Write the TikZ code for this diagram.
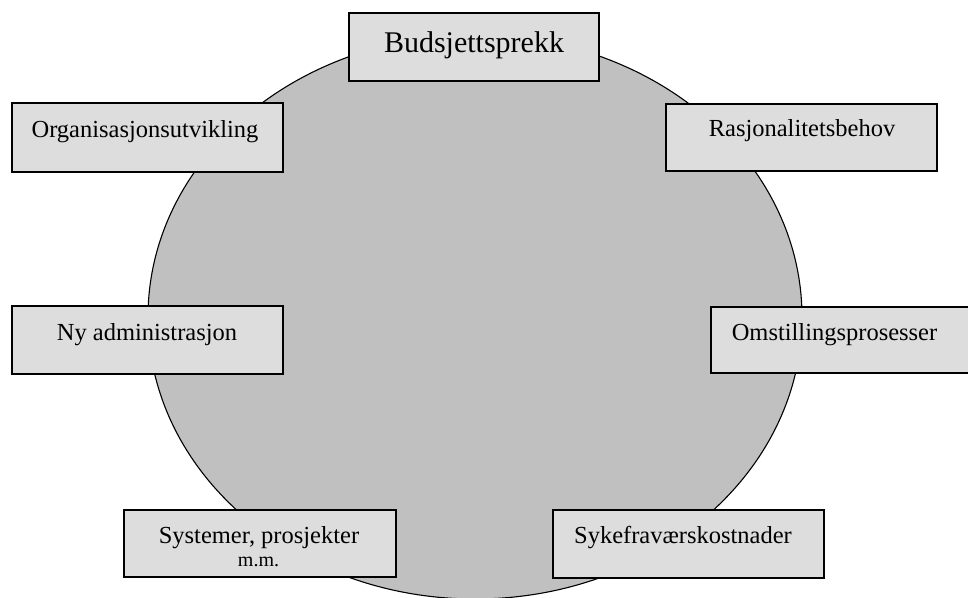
\documentclass[tikz,border=0pt]{standalone}
\usepackage{fontspec}
\setmainfont{Liberation Serif}
\definecolor{discgray}{HTML}{C0C0C0}
\definecolor{boxgray}{HTML}{DDDDDD}
\begin{document}
\begin{tikzpicture}[x=1pt,y=-1pt,
  boxstyle/.style={draw=black,line width=1.6pt,fill=boxgray},
  lbl/.style={anchor=base,inner sep=0pt,font=\fontsize{24.5}{28}\selectfont},
  biglbl/.style={anchor=base,inner sep=0pt,font=\fontsize{30}{34}\selectfont},
  smalllbl/.style={anchor=base,inner sep=0pt,font=\fontsize{20}{24}\selectfont}]
\useasboundingbox (0,0) rectangle (968,597);
% central disc
\draw[fill=discgray,line width=1.1pt] (475,317) ellipse [x radius=327, y radius=282];
% boxes
\draw[boxstyle] (349,13) rectangle (599,81);
\node[biglbl] (budsjett) at (474,52) {Budsjettsprekk};
\draw[boxstyle] (12,103) rectangle (283,172);
\node[lbl] (org) at (145,137) {Organisasjonsutvikling};
\draw[boxstyle] (666,104) rectangle (937,171);
\node[lbl] (rasj) at (802,136) {Rasjonalitetsbehov};
\draw[boxstyle] (12,306) rectangle (283,374);
\node[lbl] (nyadm) at (147,340) {Ny administrasjon};
\draw[boxstyle] (711,307) rectangle (972,373);
\node[lbl] (omst) at (834.5,340) {Omstillingsprosesser};
\draw[boxstyle] (124,510) rectangle (396,577);
\node[lbl] (syst) at (259,543) {Systemer, prosjekter};
\node[smalllbl] (mm) at (258.5,566) {m.m.};
\draw[boxstyle] (553,510) rectangle (824,578);
\node[lbl] (syke) at (683,543) {Sykefraværskostnader};
\end{tikzpicture}
\end{document}
